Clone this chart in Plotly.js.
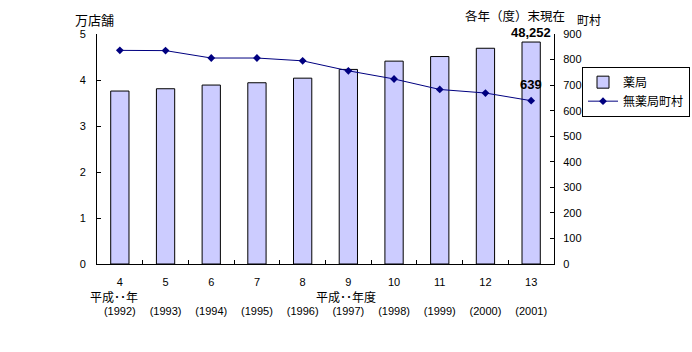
<!DOCTYPE html>
<html><head><meta charset="utf-8">
<script src="https://cdn.plot.ly/plotly-3.0.1.min.js"></script>
<style>html,body{margin:0;padding:0;background:#fff}#chart{width:692px;height:352px}</style>
</head><body><div id="chart"></div>
<script>
const categories = ["4","5","6","7","8","9","10","11","12","13"];
const westernYears = ["(1992)","(1993)","(1994)","(1995)","(1996)","(1997)","(1998)","(1999)","(2000)","(2001)"];
const pharmacies = [3.76, 3.81, 3.89, 3.94, 4.04, 4.23, 4.41, 4.51, 4.69, 4.8252]; // 万店舗
const noPharmacyTowns = [836, 835, 806, 806, 795, 756, 724, 683, 669, 639]; // 町村
const tickText = categories.map((c, i) => c + "<br><br>" + westernYears[i]);

const jp = '"Noto Sans CJK JP", "Liberation Sans", sans-serif';
const num = '"Liberation Sans", Arial, sans-serif';
const last = categories.length - 1;

const traces = [
  {type: 'bar', name: '薬局', x: categories, y: pharmacies, width: 0.4,
   marker: {color: '#CCCCFF', line: {color: '#000000', width: 1}}, yaxis: 'y'},
  {type: 'scatter', mode: 'lines+markers', name: '無薬局町村', x: categories, y: noPharmacyTowns,
   line: {color: '#000080', width: 1}, marker: {symbol: 'diamond', size: 6, color: '#000080'}, yaxis: 'y2'}
];

const layout = {
  width: 692, height: 352,
  margin: {l: 97, r: 138, t: 34, b: 88, autoexpand: false},
  paper_bgcolor: '#fff', plot_bgcolor: '#fff',
  font: {family: jp, size: 12, color: '#000'},
  showlegend: true,
  legend: {x: (582 - 97) / 457, y: 0.858, xanchor: 'left', yanchor: 'top', bordercolor: '#000', borderwidth: 1,
           bgcolor: '#fff', font: {family: jp, size: 12}, itemwidth: 30, tracegroupgap: 0},
  bargap: 0.6,
  xaxis: {type: 'category', tickvals: categories, ticktext: tickText, tickson: 'boundaries',
          ticks: 'inside', ticklen: 4, tickcolor: '#000', showline: true, linecolor: '#000', linewidth: 1,
          showgrid: false, zeroline: false, tickfont: {family: num, size: 11}, ticklabelstandoff: 8,
          range: [-0.5, 9.5], automargin: false},
  yaxis: {range: [0, 5], dtick: 1, ticks: 'inside', ticklen: 4, tickcolor: '#000', showline: true,
          linecolor: '#000', linewidth: 1, showgrid: false, zeroline: false, automargin: false,
          tickfont: {family: num, size: 11}, ticklabelstandoff: 8},
  yaxis2: {range: [0, 900], dtick: 100, overlaying: 'y', side: 'right', ticks: 'inside', ticklen: 4,
           tickcolor: '#000', showline: true, linecolor: '#000', linewidth: 1, showgrid: false,
           zeroline: false, tickfont: {family: num, size: 11}, ticklabelstandoff: 6, automargin: false},
  annotations: [
    {text: '万店舗', xref: 'paper', yref: 'paper', x: (94 - 97) / 457, y: (264 - 20) / 230,
     xanchor: 'center', yanchor: 'middle', showarrow: false, font: {family: jp, size: 13}},
    {text: '町村', xref: 'paper', yref: 'paper', x: (589 - 97) / 457, y: (264 - 20) / 230,
     xanchor: 'center', yanchor: 'middle', showarrow: false, font: {family: jp, size: 12}},
    {text: '各年（度）末現在', xref: 'paper', yref: 'paper', x: (515 - 97) / 457, y: (264 - 15) / 230,
     xanchor: 'center', yanchor: 'middle', showarrow: false, font: {family: jp, size: 12.5}},
    {text: '平成･･年', xref: 'paper', yref: 'paper', x: (114 - 97) / 457, y: (264 - 296) / 230,
     xanchor: 'center', yanchor: 'middle', showarrow: false, font: {family: jp, size: 12}},
    {text: '平成･･年度', xref: 'paper', yref: 'paper', x: (346 - 97) / 457, y: (264 - 296) / 230,
     xanchor: 'center', yanchor: 'middle', showarrow: false, font: {family: jp, size: 12}},
    {text: '<b>48,252</b>', xref: 'x', yref: 'y', x: last, y: pharmacies[last], yshift: 0,
     xanchor: 'center', yanchor: 'bottom', showarrow: false, font: {family: num, size: 13}},
    {text: '<b>639</b>', xref: 'x', yref: 'y2', x: last, y: noPharmacyTowns[last], yshift: 16,
     xanchor: 'center', yanchor: 'middle', showarrow: false, font: {family: num, size: 13}}
  ]
};

Plotly.newPlot('chart', traces, layout, {staticPlot: true, displayModeBar: false});
</script></body></html>
